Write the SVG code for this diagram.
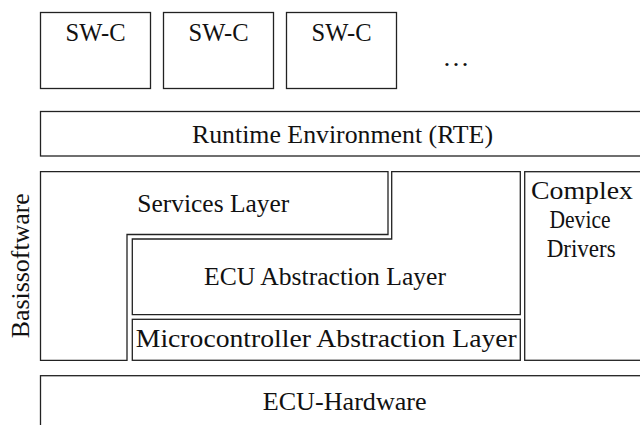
<svg xmlns="http://www.w3.org/2000/svg" width="640" height="425" viewBox="0 0 640 425">
<style>
.b{fill:#fff;stroke:#222;stroke-width:1.3}
.t{font-size:24.5px;fill:#111;text-anchor:middle}
</style>
<rect width="640" height="425" fill="#fff"/>
<g font-family="'Liberation Serif', 'Times New Roman', 'DejaVu Serif', serif">
<g id="swc1"><rect class="b" x="40.5" y="12.5" width="110" height="76"/><text class="t" x="95.5" y="40.7" textLength="60" lengthAdjust="spacingAndGlyphs">SW-C</text></g>
<g id="swc2"><rect class="b" x="163.5" y="12.5" width="110" height="76"/><text class="t" x="218.5" y="40.7" textLength="60" lengthAdjust="spacingAndGlyphs">SW-C</text></g>
<g id="swc3"><rect class="b" x="286.5" y="12.5" width="110" height="76"/><text class="t" x="341.5" y="40.7" textLength="60" lengthAdjust="spacingAndGlyphs">SW-C</text></g>
<g id="ellipsis"><text class="t" x="456" y="66" textLength="27" lengthAdjust="spacingAndGlyphs">…</text></g>
<g id="rte"><rect class="b" x="40.5" y="111.5" width="620" height="44.5"/><text class="t" x="342.5" y="143" textLength="301" lengthAdjust="spacingAndGlyphs">Runtime Environment (RTE)</text></g>
<g id="services"><path class="b" d="M40.5 171.7H388V234.5H127V360.3H40.5Z"/><text class="t" x="213.3" y="211.7" textLength="152" lengthAdjust="spacingAndGlyphs">Services Layer</text></g>
<g id="ecuabs"><path class="b" d="M391.7 171.7H520.3V314.7H132.3V239H391.7Z"/><text class="t" x="325" y="285" textLength="242" lengthAdjust="spacingAndGlyphs">ECU Abstraction Layer</text></g>
<g id="mcal"><rect class="b" x="132.3" y="319.3" width="388" height="41"/><text class="t" x="326.3" y="346.5" textLength="381" lengthAdjust="spacingAndGlyphs">Microcontroller Abstraction Layer</text></g>
<g id="cdd"><rect class="b" x="524.7" y="171.7" width="140" height="188.6"/><text class="t" x="582" y="199.3" textLength="102" lengthAdjust="spacingAndGlyphs">Complex</text><text class="t" x="580" y="228.3" textLength="61" lengthAdjust="spacingAndGlyphs">Device</text><text class="t" x="581.2" y="256.7" textLength="69" lengthAdjust="spacingAndGlyphs">Drivers</text></g>
<g id="hw"><rect class="b" x="40.5" y="375.7" width="620" height="70"/><text class="t" x="344.7" y="410" textLength="164" lengthAdjust="spacingAndGlyphs">ECU-Hardware</text></g>
<g id="basis"><text class="t" transform="translate(28.5,265.7) rotate(-90)" x="0" y="0" textLength="145" lengthAdjust="spacingAndGlyphs">Basissoftware</text></g>
</g>
<g id="connectors"/>
</svg>
